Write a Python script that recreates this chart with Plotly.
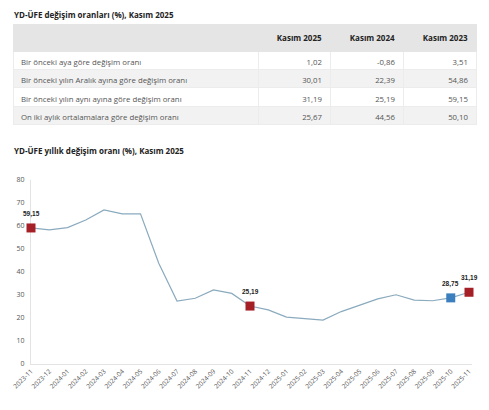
import plotly.graph_objects as go

# table data
table_title = "YD-ÜFE değişim oranları (%), Kasım 2025"
col_headers = ["", "Kasım 2025", "Kasım 2024", "Kasım 2023"]
row_labels = [
    "Bir önceki aya göre değişim oranı",
    "Bir önceki yılın Aralık ayına göre değişim oranı",
    "Bir önceki yılın aynı ayına göre değişim oranı",
    "On iki aylık ortalamalara göre değişim oranı",
]
kasim_2025 = ["1,02", "30,01", "31,19", "25,67"]
kasim_2024 = ["-0,86", "22,39", "25,19", "44,56"]
kasim_2023 = ["3,51", "54,86", "59,15", "50,10"]

# line chart data
chart_title = "YD-ÜFE yıllık değişim oranı (%), Kasım 2025"
months = ["2023-11", "2023-12", "2024-01", "2024-02", "2024-03", "2024-04",
          "2024-05", "2024-06", "2024-07", "2024-08", "2024-09", "2024-10",
          "2024-11", "2024-12", "2025-01", "2025-02", "2025-03", "2025-04",
          "2025-05", "2025-06", "2025-07", "2025-08", "2025-09", "2025-10",
          "2025-11"]
annual = [59.15, 58.3, 59.3, 62.6, 67.0, 65.3,
          65.3, 43.8, 27.4, 28.6, 32.2, 30.7,
          25.19, 23.5, 20.4, 19.9, 19.1, 22.8,
          25.4, 28.3, 30.1, 27.8, 27.5, 28.75,
          31.19]
highlight = ["2023-11", "2024-11", "2025-10", "2025-11"]
highlight_colors = ["#a51f26", "#a51f26", "#3b7fbf", "#a51f26"]

# page body has an 8px margin, so the figure is a bit smaller than the window
OFF = 8
W, H = 489 - 2 * OFF, 410 - 2 * OFF
FONT = "Open Sans"


def px(x):
    return (x - OFF) / W


def py(y):
    return 1 - (y - OFF) / H


fig = go.Figure()

fill_rows = ["white", "#f2f2f2", "white", "#f2f2f2"]
fig.add_trace(go.Table(
    domain=dict(x=[px(13), px(476)], y=[py(130), py(24)]),
    columnwidth=[245, 72, 73, 73],
    header=dict(
        values=["<b>%s</b>" % h for h in col_headers],
        fill_color="#e5e5e5",
        line_color="#e5e5e5",
        align=["left", "right", "right", "right"],
        font=dict(family=FONT, size=8, color="#222"),
        height=17,
    ),
    cells=dict(
        values=[row_labels, kasim_2025, kasim_2024, kasim_2023],
        fill_color=[fill_rows] * 4,
        line_color="#ececec",
        align=["left", "right", "right", "right"],
        font=dict(family=FONT, size=7.8, color="#555"),
        height=18.4,
    ),
))

idx = [months.index(m) for m in highlight]
fig.add_trace(go.Scatter(
    x=list(range(len(months))), y=annual, mode="lines",
    line=dict(color="#8aaabe", width=1.2), hoverinfo="skip",
))
fig.add_trace(go.Scatter(
    x=idx, y=[annual[i] for i in idx], mode="markers",
    marker=dict(symbol="square", size=9, color=highlight_colors),
    cliponaxis=False,
))

labels = []
for i in idx:
    labels.append(dict(
        x=i, y=annual[i], xref="x", yref="y", yshift=14, showarrow=False,
        text="<b>%s</b>" % ("%.2f" % annual[i]).replace(".", ","),
        font=dict(family="Arial", size=6.5, color="#222"),
    ))

x_left, x_unit = 31, 18.25
fig.update_layout(
    width=W, height=H,
    margin=dict(l=0, r=0, t=0, b=0, autoexpand=False),
    paper_bgcolor="white", plot_bgcolor="white",
    showlegend=False,
    font=dict(family=FONT, color="#555"),
    xaxis=dict(
        domain=[px(x_left), px(x_left + 24.15 * x_unit)],
        range=[0, 24.15],
        tickmode="array", tickvals=list(range(len(months))), ticktext=months,
        tickangle=-45, tickfont=dict(size=6.5, color="#555"),
        showgrid=False, zeroline=False,
        showline=True, linecolor="#e3e3e3", linewidth=1,
        layer="below traces",
        automargin=False, anchor="y",
    ),
    yaxis=dict(
        domain=[py(364), py(180)],
        range=[0, 80], dtick=10,
        tickfont=dict(size=7, color="#555"),
        showgrid=False, zeroline=False,
        showline=True, linecolor="#e3e3e3", linewidth=1,
        ticklabelstandoff=4, layer="below traces",
        automargin=False, anchor="x",
    ),
    annotations=[
        dict(text="<b>%s</b>" % table_title, x=px(12), y=py(15),
             xref="paper", yref="paper", xanchor="left", yanchor="middle",
             showarrow=False, font=dict(family=FONT, size=8, color="#222")),
        dict(text="<b>%s</b>" % chart_title, x=px(12), y=py(151),
             xref="paper", yref="paper", xanchor="left", yanchor="middle",
             showarrow=False, font=dict(family=FONT, size=8, color="#222")),
    ] + labels,
)

fig.write_html("out.html")
